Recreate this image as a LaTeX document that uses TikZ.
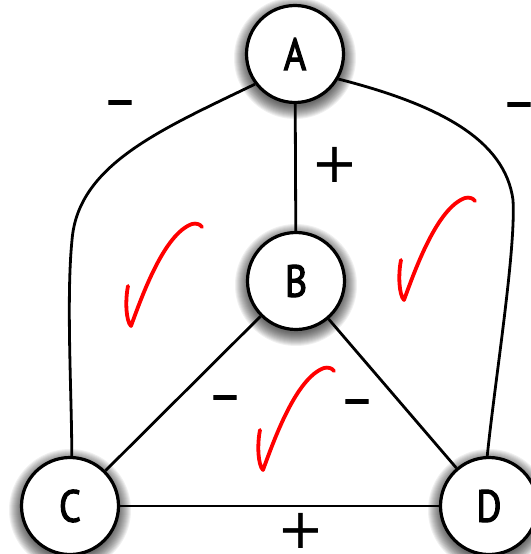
\documentclass[tikz,border=0pt]{standalone}
\usepackage{fontspec}
\newfontfamily\nhanfont{PT Sans}[FakeStretch=0.85, FakeBold=2.5]
\newfontfamily\trufont{PT Sans}[FakeBold=2]
\newfontfamily\congfont{DejaVu Sans}

\begin{document}
\begin{tikzpicture}[x=1pt, y=-1pt, line width=2.8pt,
    dinh/.style={circle, draw, line width=3.2pt, fill=white, minimum size=97pt, inner sep=0pt,
      font=\nhanfont\fontsize{45}{45}\selectfont},
    bong/.style={black, opacity=0.06},
    dau/.style={font=\trufont\fontsize{52}{52}\selectfont, inner sep=0pt},
    cong/.style={font=\congfont\fontsize{56}{56}\selectfont, inner sep=0pt},
    tick/.pic={\draw[red, line width=3.8pt, line cap=round, line join=round]
      (0,0) .. controls (-3,15) and (-2,35) .. (3,40)
      .. controls (14,10) and (36,-52) .. (64,-62)
      .. controls (68,-63) and (72,-62) .. (74,-59);}]
  \useasboundingbox (0,0) rectangle (530,554);

  % Vị trí các đỉnh
  \coordinate (pA) at (295,54);
  \coordinate (pB) at (296,281);
  \coordinate (pC) at (70,506);
  \coordinate (pD) at (489,506);

  % Bóng mờ
  \foreach \p in {pA,pB,pC,pD}
    \foreach \r in {48,...,61}
      \fill[bong] ([yshift=-4pt]\p) circle (\r pt);

  % Các đỉnh
  \node[dinh] (A) at (pA) {A};
  \node[dinh] (B) at (pB) {B};
  \node[dinh] (C) at (pC) {C};
  \node[dinh] (D) at (pD) {D};

  % Các cạnh
  \draw (A) -- (B);
  \draw (B) -- (C);
  \draw (B) -- (D);
  \draw (C) -- (D);
  \draw (A.217) .. controls (160,130) and (78,165) .. (72,240)
    .. controls (66,300) and (72,400) .. (C.88);
  \draw (A.330) .. controls (440,105) and (505,140) .. (513,200)
    .. controls (516,250) and (495,380) .. (D.92);

  % Dấu của cạnh
  \node[dau] (sAC) at (120,109) {\textendash};
  \node[dau] (sAD) at (519,111) {\textendash};
  \node[cong] (sAB) at (335,165) {+};
  \node[dau] (sBC) at (225,404) {\textendash};
  \node[dau] (sBD) at (357,408) {\textendash};
  \node[cong] (sCD) at (301,531) {+};

  % Dấu kiểm
  \pic at (128,286) {tick};
  \pic at (260,430) {tick};
  \pic at (401,260) {tick};
\end{tikzpicture}
\end{document}
